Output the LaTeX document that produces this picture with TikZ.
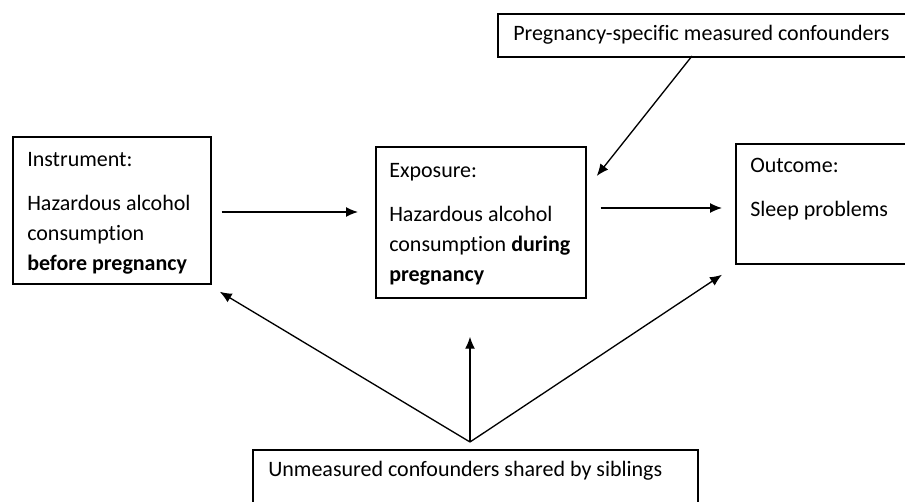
\documentclass[tikz,border=0pt]{standalone}
\usepackage{fontspec}
\setmainfont[Ligatures=NoCommon]{Carlito}
\usetikzlibrary{arrows.meta}

\tikzset{
  bx/.style={draw, line width=1.3pt, rectangle, anchor=north west, inner sep=0pt},
  txt/.style={anchor=north west, align=left, inner sep=0pt,
              font=\fontsize{16.5pt}{22.5pt}\selectfont},
  arr/.style={line width=1pt, -{Latex[length=9pt,width=7.5pt]}}
}

\begin{document}
\begin{tikzpicture}[x=0.75pt, y=-0.75pt]
\useasboundingbox (0,0) rectangle (905,502);
\clip (0,0) rectangle (905,502); % boxes on the right and bottom run off the page

% boxes
\node[bx, minimum width=198*0.75pt, minimum height=147*0.75pt] (instr) at (12,136) {};
\node[bx, minimum width=210*0.75pt, minimum height=151*0.75pt] (expo) at (375,146) {};
\node[bx, minimum width=220*0.75pt, minimum height=120*0.75pt] (outc) at (735,143) {};
\node[bx, minimum width=450*0.75pt, minimum height=43*0.75pt] (preg) at (497,13) {};
\node[bx, minimum width=445*0.75pt, minimum height=110*0.75pt] (unmeas) at (252,449) {};

% texts
\node[txt] (instrtxt) at ([shift={(15,16)}]instr.north west)
  {Instrument:\\[10.5pt]Hazardous alcohol\\consumption\\\textbf{before pregnancy}};
\node[txt] (expotxt) at ([shift={(14,17)}]expo.north west)
  {Exposure:\\[10.5pt]Hazardous alcohol\\consumption \textbf{during}\\\textbf{pregnancy}};
\node[txt] (outctxt) at ([shift={(15,15)}]outc.north west)
  {Outcome:\\[10.5pt]Sleep problems};
\node[txt] (pregtxt) at ([shift={(16,12)}]preg.north west)
  {Pregnancy-specific measured confounders};
\node[txt] (unmtxt) at ([shift={(16,12)}]unmeas.north west)
  {Unmeasured confounders shared by siblings};

% arrow ends
\coordinate (fork) at ([shift={(218,-7)}]unmeas.north west);
\coordinate (pregend) at ([shift={(195,43)}]preg.north west);

\draw[arr] ([shift={(10,76)}]instr.north east) -- ([shift={(-17,66)}]expo.north west);
\draw[arr] ([shift={(14,62)}]expo.north east) -- ([shift={(-13,65)}]outc.north west);
\draw[arr] (pregend) -- ([shift={(10,30)}]expo.north east);
\draw[arr] (fork) -- ([shift={(8,7)}]instr.south east);
\draw[arr] (fork) -- ([shift={(95,38)}]expo.south west);
\draw[arr] (fork) -- ([shift={(-13,10)}]outc.south west);
\end{tikzpicture}
\end{document}
